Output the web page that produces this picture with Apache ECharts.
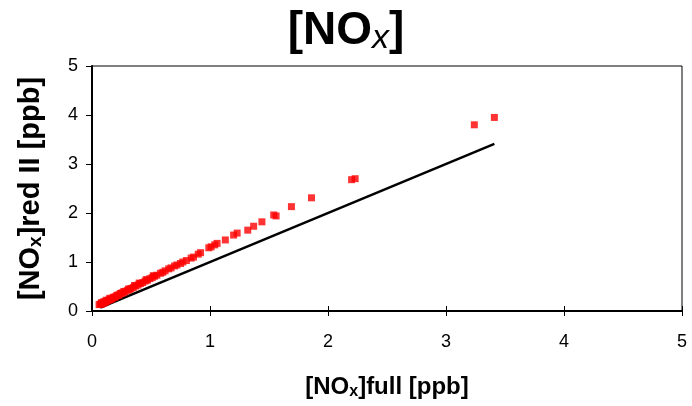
<!DOCTYPE html>
<html>
<head>
<meta charset="utf-8">
<script src="https://cdn.jsdelivr.net/npm/echarts@6/dist/echarts.min.js"></script>
<style>html,body{margin:0;padding:0;background:#fff;}#c{width:692px;height:406px;}</style>
</head>
<body>
<div id="c"></div>
<script>
// Measured red II vs full NOx [ppb]
const fullX = [0.06,0.07,0.08,0.08,0.09,0.10,0.10,0.11,0.12,0.12,0.13,0.14,0.15,0.15,0.16,0.17,0.18,0.19,0.20,0.21,
  0.22,0.23,0.24,0.25,0.26,0.27,0.28,0.30,0.31,0.32,0.33,0.35,0.36,0.37,0.39,0.40,0.41,0.43,0.45,0.46,
  0.47,0.49,0.51,0.52,0.53,0.55,0.58,0.60,0.62,0.65,0.67,0.70,0.72,0.75,0.77,0.80,0.84,0.86,0.90,0.92,
  0.99,1.01,1.04,1.06,1.13,1.20,1.23,1.32,1.37,1.44,1.54,1.56,1.69,1.86,2.20,2.23,3.24,3.41];
const redY = [0.13,0.14,0.14,0.17,0.16,0.16,0.19,0.18,0.19,0.22,0.21,0.22,0.23,0.26,0.24,0.25,0.28,0.28,0.29,0.32,
  0.32,0.33,0.36,0.36,0.37,0.40,0.39,0.42,0.45,0.44,0.46,0.48,0.52,0.51,0.53,0.57,0.56,0.58,0.61,0.64,
  0.63,0.66,0.68,0.72,0.71,0.73,0.77,0.79,0.82,0.86,0.88,0.92,0.94,0.97,1.00,1.03,1.08,1.10,1.16,1.19,
  1.29,1.31,1.35,1.38,1.45,1.55,1.59,1.65,1.73,1.82,1.96,1.94,2.13,2.31,2.68,2.70,3.80,3.95];
// 1:1 reference line
const lineX = [0.07, 3.41];
const lineY = [0.07, 3.41];
const tickVals = [0,1,2,3,4,5];

const chart = echarts.init(document.getElementById('c'), null, {renderer:'canvas'});
const pts = fullX.map((x,i)=>[x, redY[i]]);
const linePts = lineX.map((x,i)=>[x, lineY[i]]);
const FONT = 'Liberation Sans, Arial, sans-serif';
const subStyle = (size)=>({fontFamily:FONT, fontWeight:'bold', fontSize:size, padding:[Math.round(size*0.55),0,0,0], color:'#000'});
chart.setOption({
  animation:false,
  title:{
    text:'[NO{it|x}]',
    left:'center', top:1,
    textStyle:{fontFamily:FONT, fontWeight:'bold', fontSize:46, color:'#000',
      rich:{it:{fontFamily:FONT, fontWeight:'normal', fontStyle:'italic', fontSize:34, padding:[16,0,0,0], color:'#000'}}}
  },
  grid:{left:92, right:10, top:66, bottom:95, show:true, borderColor:'#000', borderWidth:1},
  xAxis:[{
    type:'value', min:0, max:5, interval:1,
    name:'[NO{s|x}]full [ppb]', nameLocation:'middle', nameGap:64,
    nameTextStyle:{fontFamily:FONT, fontWeight:'bold', fontSize:24, color:'#000', rich:{s:subStyle(16)}},
    axisLine:{show:true, lineStyle:{color:'#000', width:2}},
    axisTick:{show:true, length:5, lineStyle:{color:'#000'}},
    axisLabel:{fontFamily:FONT, fontSize:18, color:'#000', margin:22,
      formatter:(v)=>String(tickVals[Math.round(v)])},
    splitLine:{show:false}
  },{
    type:'value', min:0, max:5, interval:1, position:'bottom', offset:0,
    axisLine:{show:false}, axisTick:{show:true, inside:true, length:5, lineStyle:{color:'#000'}},
    axisLabel:{show:false}, splitLine:{show:false}
  }],
  yAxis:{
    type:'value', min:0, max:5, interval:1,
    name:'[NO{s|x}]red II [ppb]', nameLocation:'middle', nameGap:47, nameRotate:90,
    nameTextStyle:{fontFamily:FONT, fontWeight:'bold', fontSize:29, color:'#000', rich:{s:subStyle(19)}},
    axisLine:{show:true, lineStyle:{color:'#000', width:2}},
    axisTick:{show:true, length:6, lineStyle:{color:'#000'}},
    axisLabel:{fontFamily:FONT, fontSize:18, color:'#000', margin:14,
      formatter:(v)=>String(tickVals[Math.round(v)])},
    splitLine:{show:false}
  },
  series:[{
    type:'line', data:linePts, showSymbol:false, symbol:'none',
    lineStyle:{color:'#000', width:2.5}, z:2
  },{
    type:'scatter', data:pts, symbol:'rect', symbolSize:7,
    itemStyle:{color:'#ff0000'}, z:3
  }]
});
</script>
</body>
</html>
